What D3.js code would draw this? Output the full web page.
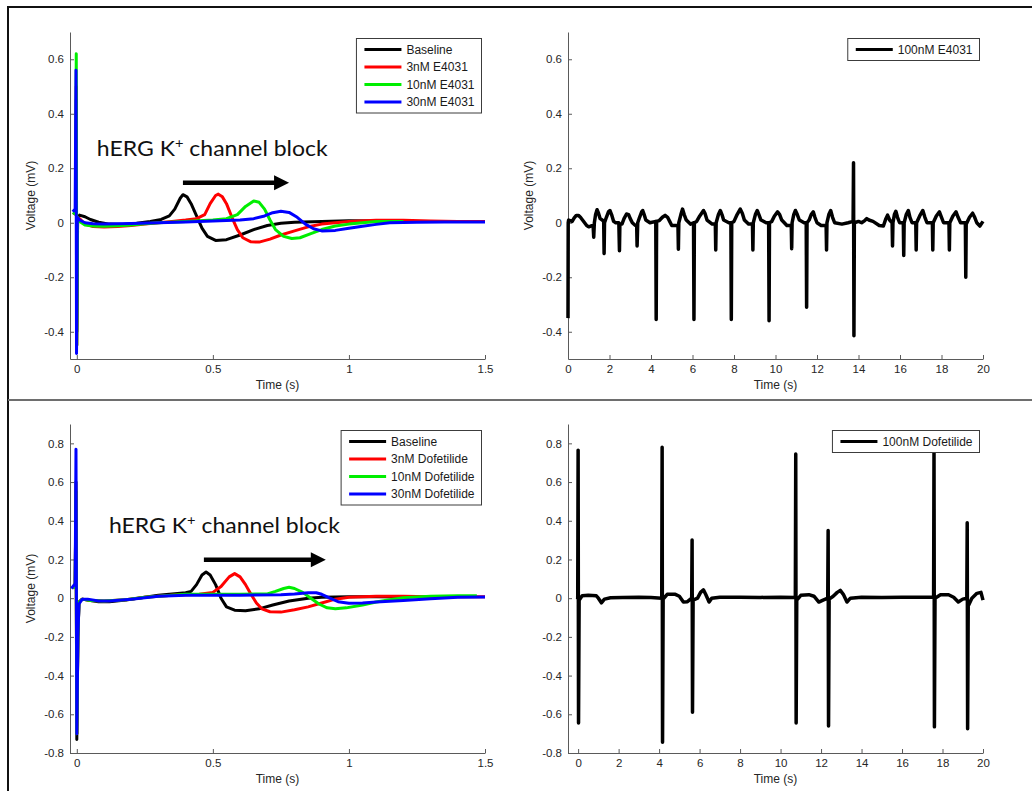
<html>
<head>
  <meta charset="UTF-8">
  <title>hERG K+ channel block - field potentials</title>
  <script src="https://d3js.org/d3.v7.min.js"></script>
  <style>
    body { margin: 0; background: white; }
    svg { display: block; font-family: "Liberation Sans", Arial, sans-serif; }
    .axis text { font-size: 11.5px; fill: #262626; }
    .axis path, .axis line { stroke: #5a5a5a; stroke-width: 1; }
    .label { font-size: 12px; fill: #262626; }
    .legend text { font-size: 12px; fill: #1a1a1a; }
    .note { font-family: Lato, "Open Sans", sans-serif; fill: #111; }
  </style>
</head>
<body>
<svg></svg>
<script>

// ---------- data (time s, voltage mV) ----------

const e4031Names = ["Baseline", "3nM E4031", "10nM E4031", "30nM E4031"];
const dofNames = ["Baseline", "3nM Dofetilide", "10nM Dofetilide", "30nM Dofetilide"];
const seriesColors = ["#000000", "#ff0000", "#00ee00", "#0000ff"];

const shortTimeTicks = [0, 0.5, 1, 1.5];
const longTimeTicks = [0, 2, 4, 6, 8, 10, 12, 14, 16, 18, 20];
const voltTicksTop = [-0.4, -0.2, 0, 0.2, 0.4, 0.6];
const voltTicksBottom = [-0.8, -0.6, -0.4, -0.2, 0, 0.2, 0.4, 0.6, 0.8];

const e4031Baseline = [[-0.012,0.03],[-0.004,0.04],[-0.002,0.45],[0.0,-0.4],[0.003,0.02],[0.01,0.028],[0.03,0.022],[0.05,0.012],[0.08,0.002],[0.12,-0.005],[0.17,-0.006],[0.22,-0.002],[0.27,0.005],[0.31,0.012],[0.34,0.025],[0.36,0.05],[0.38,0.09],[0.39,0.103],[0.405,0.095],[0.42,0.07],[0.44,0.025],[0.46,-0.02],[0.48,-0.05],[0.51,-0.065],[0.55,-0.062],[0.6,-0.045],[0.65,-0.025],[0.7,-0.01],[0.75,-0.002],[0.8,0.002],[0.9,0.005],[1.0,0.007],[1.1,0.006],[1.22,0.005]];
const e4031_3nM = [[-0.012,0.03],[-0.004,0.04],[-0.002,0.5],[0.0,-0.45],[0.003,0.02],[0.01,0.015],[0.03,-0.005],[0.06,-0.014],[0.1,-0.016],[0.15,-0.014],[0.2,-0.01],[0.25,-0.005],[0.3,0.0],[0.35,0.005],[0.4,0.01],[0.44,0.015],[0.47,0.03],[0.49,0.07],[0.51,0.1],[0.52,0.105],[0.535,0.095],[0.55,0.07],[0.57,0.02],[0.59,-0.025],[0.61,-0.055],[0.64,-0.07],[0.67,-0.071],[0.71,-0.06],[0.75,-0.045],[0.8,-0.03],[0.85,-0.015],[0.9,-0.005],[0.95,0.0],[1.0,0.005],[1.1,0.009],[1.2,0.009],[1.3,0.006],[1.4,0.005],[1.5,0.005]];
const e4031_10nM = [[-0.012,0.03],[-0.004,0.05],[-0.002,0.62],[0.0,-0.45],[0.003,0.02],[0.01,0.005],[0.03,-0.008],[0.06,-0.012],[0.1,-0.013],[0.15,-0.011],[0.2,-0.008],[0.25,-0.004],[0.3,0.0],[0.4,0.005],[0.5,0.01],[0.55,0.015],[0.59,0.03],[0.62,0.06],[0.65,0.08],[0.67,0.075],[0.69,0.05],[0.71,0.01],[0.73,-0.025],[0.76,-0.05],[0.79,-0.058],[0.82,-0.055],[0.86,-0.04],[0.9,-0.025],[0.95,-0.012],[1.0,-0.005],[1.05,0.0],[1.1,0.005],[1.2,0.005]];
const e4031_30nM = [[-0.015,0.04],[-0.006,0.05],[-0.003,0.56],[-0.001,-0.48],[0.002,0.02],[0.01,0.01],[0.03,0.0],[0.06,-0.004],[0.1,-0.005],[0.2,-0.003],[0.3,0.0],[0.4,0.003],[0.5,0.006],[0.6,0.01],[0.65,0.015],[0.69,0.025],[0.72,0.037],[0.75,0.042],[0.78,0.038],[0.81,0.02],[0.84,-0.005],[0.87,-0.022],[0.9,-0.03],[0.95,-0.028],[1.0,-0.02],[1.05,-0.013],[1.1,-0.006],[1.15,0.0],[1.25,0.002],[1.35,0.003],[1.5,0.003]];

const e4031_100nM = [[0,-0.35],[0.01,0.0],[0.03,0.01],[0.2,0.005],[0.3,0.018],[0.4,0.027],[0.5,0.027],[0.6,0.02],[0.7,0.01],[0.8,0.0],[0.9,-0.01],[1.0,-0.015],[1.1,-0.012],[1.21,-0.01],[1.24,-0.053],[1.27,0.0],[1.33,0.03],[1.4,0.048],[1.47,0.035],[1.55,0.015],[1.65,0.01],[1.72,0.005],[1.74,-0.113],[1.76,0.0],[1.85,0.02],[1.95,0.04],[2.02,0.045],[2.1,0.03],[2.2,0.005],[2.3,0.0],[2.45,0.0],[2.48,-0.103],[2.5,-0.005],[2.6,-0.005],[2.7,0.015],[2.82,0.032],[2.92,0.03],[3.0,0.015],[3.1,0.0],[3.25,-0.01],[3.31,-0.01],[3.33,-0.085],[3.36,0.0],[3.45,0.02],[3.55,0.04],[3.6,0.045],[3.67,0.03],[3.75,0.01],[3.95,0.0],[4.23,0.005],[4.25,-0.355],[4.27,0.005],[4.4,0.008],[4.55,0.02],[4.68,0.027],[4.8,0.02],[4.9,0.005],[5.0,-0.01],[5.2,-0.01],[5.3,-0.01],[5.32,-0.097],[5.34,0.0],[5.44,0.03],[5.52,0.05],[5.6,0.03],[5.7,0.01],[5.9,-0.005],[6.05,0.0],[6.07,-0.355],[6.09,0.0],[6.2,0.005],[6.35,0.025],[6.53,0.045],[6.6,0.035],[6.7,0.01],[6.95,-0.005],[7.1,-0.005],[7.12,-0.1],[7.14,0.0],[7.25,0.03],[7.34,0.045],[7.42,0.03],[7.5,0.01],[7.75,0.0],[7.85,0.0],[7.87,-0.355],[7.89,0.0],[8.0,0.005],[8.15,0.03],[8.3,0.05],[8.4,0.035],[8.5,0.01],[8.7,-0.005],[8.89,-0.005],[8.91,-0.1],[8.93,0.0],[9.03,0.03],[9.12,0.045],[9.2,0.03],[9.3,0.01],[9.55,0.0],[9.67,0.0],[9.69,-0.36],[9.71,0.0],[9.82,0.005],[9.95,0.025],[10.1,0.04],[10.2,0.03],[10.3,0.01],[10.55,-0.01],[10.76,-0.01],[10.78,-0.095],[10.8,0.0],[10.88,0.03],[10.96,0.045],[11.05,0.03],[11.15,0.01],[11.38,0.0],[11.48,0.0],[11.5,-0.31],[11.52,0.0],[11.62,0.01],[11.72,0.03],[11.82,0.04],[11.9,0.02],[12.0,0.0],[12.2,-0.01],[12.44,-0.01],[12.46,-0.1],[12.48,0.0],[12.57,0.03],[12.66,0.045],[12.75,0.02],[12.85,0.0],[13.2,-0.005],[13.5,0.0],[13.74,0.005],[13.76,0.22],[13.78,-0.415],[13.8,0.0],[14.0,0.005],[14.15,0.0],[14.3,0.008],[14.4,0.015],[14.5,0.01],[14.7,0.005],[15.0,-0.01],[15.2,-0.012],[15.32,0.015],[15.4,0.028],[15.5,0.01],[15.62,0.0],[15.64,-0.085],[15.66,0.0],[15.73,0.03],[15.8,0.042],[15.88,0.02],[15.98,0.0],[16.16,0.0],[16.18,-0.12],[16.2,0.0],[16.3,0.03],[16.4,0.045],[16.48,0.02],[16.58,0.0],[16.76,0.0],[16.78,-0.1],[16.8,0.0],[16.95,0.025],[17.1,0.045],[17.2,0.02],[17.3,0.0],[17.56,0.0],[17.58,-0.1],[17.6,0.0],[17.75,0.025],[17.9,0.04],[18.0,0.02],[18.1,0.0],[18.36,0.0],[18.38,-0.1],[18.4,0.0],[18.55,0.025],[18.7,0.04],[18.8,0.02],[18.92,0.0],[19.15,0.0],[19.17,-0.2],[19.19,-0.005],[19.35,0.02],[19.5,0.035],[19.6,0.02],[19.7,0.0],[19.85,-0.012],[20.0,0.005]];

const dofBaseline = [[-0.015,0.05],[-0.006,0.07],[-0.003,0.6],[0.0,-0.73],[0.004,-0.2],[0.008,-0.02],[0.02,-0.005],[0.05,-0.012],[0.08,-0.018],[0.12,-0.018],[0.18,-0.01],[0.25,0.005],[0.3,0.015],[0.35,0.022],[0.4,0.028],[0.42,0.035],[0.44,0.07],[0.46,0.12],[0.475,0.135],[0.49,0.12],[0.51,0.07],[0.53,0.0],[0.55,-0.045],[0.58,-0.062],[0.62,-0.065],[0.67,-0.055],[0.72,-0.035],[0.78,-0.015],[0.85,0.0],[0.9,0.005],[1.0,0.008],[1.1,0.008],[1.2,0.006]];
const dof3nM = [[-0.015,0.05],[-0.006,0.07],[-0.003,0.55],[0.0,-0.7],[0.004,-0.2],[0.008,-0.02],[0.02,-0.005],[0.05,-0.012],[0.1,-0.015],[0.18,-0.008],[0.25,0.005],[0.35,0.015],[0.45,0.02],[0.5,0.03],[0.53,0.06],[0.56,0.11],[0.58,0.127],[0.6,0.11],[0.62,0.07],[0.64,0.02],[0.66,-0.025],[0.68,-0.055],[0.71,-0.07],[0.75,-0.072],[0.8,-0.06],[0.85,-0.045],[0.9,-0.025],[0.95,-0.005],[1.0,0.005],[1.1,0.01],[1.2,0.01],[1.3,0.008],[1.4,0.007],[1.5,0.007]];
const dof10nM = [[-0.015,0.05],[-0.006,0.07],[-0.003,0.55],[0.0,-0.7],[0.004,-0.2],[0.008,-0.02],[0.02,-0.005],[0.05,-0.012],[0.1,-0.015],[0.18,-0.008],[0.25,0.005],[0.4,0.02],[0.6,0.02],[0.7,0.022],[0.73,0.035],[0.76,0.05],[0.78,0.056],[0.8,0.05],[0.83,0.03],[0.86,0.0],[0.89,-0.03],[0.92,-0.05],[0.95,-0.055],[0.99,-0.05],[1.05,-0.035],[1.1,-0.02],[1.15,-0.008],[1.2,0.002],[1.3,0.01],[1.4,0.012],[1.47,0.012]];
const dof30nM = [[-0.02,0.05],[-0.006,0.075],[-0.003,0.77],[0.0,-0.7],[0.004,-0.2],[0.008,-0.03],[0.02,-0.005],[0.04,-0.005],[0.08,-0.015],[0.12,-0.015],[0.2,-0.005],[0.3,0.01],[0.4,0.015],[0.6,0.015],[0.75,0.018],[0.8,0.022],[0.85,0.028],[0.88,0.028],[0.9,0.02],[0.93,0.0],[0.96,-0.018],[1.0,-0.026],[1.05,-0.025],[1.1,-0.02],[1.2,-0.012],[1.3,-0.003],[1.4,0.005],[1.5,0.006]];

const dof100nM = [[-0.05,0.005],[-0.02,0.0],[0.0,0.765],[0.02,-0.645],[0.05,-0.01],[0.2,0.012],[0.5,0.015],[0.9,0.012],[1.0,0.0],[1.15,-0.024],[1.3,-0.005],[1.6,0.002],[2.2,0.004],[3.0,0.005],[3.6,0.003],[4.13,0.0],[4.15,0.78],[4.17,-0.745],[4.2,-0.005],[4.4,0.02],[4.8,0.02],[5.0,0.01],[5.2,-0.02],[5.4,-0.018],[5.61,0.0],[5.63,0.3],[5.65,-0.59],[5.68,-0.01],[5.9,0.0],[6.05,0.03],[6.19,0.043],[6.3,0.02],[6.47,-0.02],[6.6,0.0],[7.0,0.005],[8.0,0.005],[9.0,0.004],[10.0,0.005],[10.73,0.003],[10.75,0.745],[10.77,-0.645],[10.8,-0.01],[11.0,0.015],[11.4,0.018],[11.65,0.01],[11.89,-0.02],[12.1,-0.01],[12.33,0.0],[12.35,0.35],[12.37,-0.66],[12.4,-0.005],[12.6,0.01],[12.8,0.03],[12.95,0.04],[13.1,0.02],[13.28,-0.02],[13.45,0.0],[14.0,0.005],[15.0,0.004],[16.0,0.005],[17.0,0.005],[17.56,0.005],[17.58,0.78],[17.6,-0.665],[17.63,0.0],[17.9,0.018],[18.3,0.018],[18.55,0.005],[18.78,-0.02],[19.0,-0.005],[19.2,0.0],[19.22,0.39],[19.24,-0.675],[19.27,-0.04],[19.45,0.0],[19.7,0.025],[19.9,0.03],[20.0,-0.01]];

// ---------- setup ----------

const width = 1032;
const height = 791;

let svg = d3.select("svg")
            .attr("width", width)
            .attr("height", height);

svg.append("rect").attr("width", width).attr("height", height).attr("fill", "white");

// slide frame
svg.append("line").attr("x1", 8).attr("y1", 7).attr("x2", width).attr("y2", 7)
   .attr("stroke", "#111").attr("stroke-width", 2);
svg.append("line").attr("x1", 8).attr("y1", 6).attr("x2", 8).attr("y2", height)
   .attr("stroke", "#111").attr("stroke-width", 2);
svg.append("line").attr("x1", 8).attr("y1", 400).attr("x2", width).attr("y2", 400)
   .attr("stroke", "#6e6e6e").attr("stroke-width", 2);

function drawPanel(p) {
    const xScale = d3.scaleLinear().domain(p.xDomain).range([p.left, p.right]);
    const yScale = d3.scaleLinear().domain(p.yDomain).range([p.bottom, p.top]);

    // axes (MATLAB style: ticks inward, no box)
    let bottomAxis = d3.axisBottom(xScale).tickValues(p.xTicks).tickFormat(d => String(d))
                        .tickSizeInner(-4).tickSizeOuter(0).tickPadding(6);
    svg.append("g")
        .attr("class", "x axis")
        .attr("transform", `translate(0, ${p.bottom})`)
        .call(bottomAxis);

    let leftAxis = d3.axisLeft(yScale).tickValues(p.yTicks).tickFormat(d => String(d))
                        .tickSizeInner(-4).tickSizeOuter(0).tickPadding(6);
    svg.append("g")
        .attr("class", "y axis")
        .attr("transform", `translate(${p.left}, 0)`)
        .call(leftAxis);

    svg.append("text")
        .attr("class", "label")
        .attr("x", (p.left + p.right) / 2)
        .attr("y", p.bottom + 30)
        .attr("text-anchor", "middle")
        .text("Time (s)");

    if (p.yLabel) {
        svg.append("text")
            .attr("class", "label")
            .attr("transform", `translate(${p.left - 35}, ${(p.top + p.bottom) / 2}) rotate(-90)`)
            .attr("text-anchor", "middle")
            .text(p.yLabel);
    }

    // traces
    const line = d3.line().x(d => xScale(d[0])).y(d => yScale(d[1]));
    p.series.forEach((s, i) => {
        svg.append("path")
            .attr("d", line(s))
            .attr("fill", "none")
            .attr("stroke", p.colors[i])
            .attr("stroke-width", p.lineWidth)
            .attr("stroke-linejoin", "round");
    });

    // annotation text + arrow
    if (p.note) {
        const n = p.note;
        let t = svg.append("text")
            .attr("class", "note")
            .attr("x", xScale(n.textAt[0]))
            .attr("y", yScale(n.textAt[1]))
            .attr("font-size", 22)
            .attr("textLength", 231)
            .attr("lengthAdjust", "spacingAndGlyphs");
        t.append("tspan").text("hERG K");
        t.append("tspan").attr("font-size", 14).attr("dy", -8).text("+");
        t.append("tspan").attr("dy", 8).text(" channel block");

        const ax0 = xScale(n.arrow[0]), ax1 = xScale(n.arrow[1]), ay = yScale(n.arrow[2]);
        svg.append("line")
            .attr("x1", ax0).attr("x2", ax1 - 12).attr("y1", ay).attr("y2", ay)
            .attr("stroke", "#000").attr("stroke-width", 4.5);
        svg.append("path")
            .attr("d", `M${ax1},${ay} L${ax1 - 15},${ay - 7.5} L${ax1 - 15},${ay + 7.5} Z`)
            .attr("fill", "#000");
    }

    // legend
    const lg = svg.append("g").attr("class", "legend");
    const box = lg.append("rect").attr("fill", "white").attr("stroke", "#3c3c3c").attr("stroke-width", 1);
    const rowH = p.names.length > 1 ? 17.5 : 0;
    let maxW = 0;
    const items = p.names.map((name, i) => {
        const cy = 11 + i * rowH;
        const ln = lg.append("line").attr("y1", cy).attr("y2", cy)
                     .attr("stroke", p.colors[i]).attr("stroke-width", 3);
        const tx = lg.append("text").attr("y", cy).attr("dy", "0.35em").text(name);
        maxW = Math.max(maxW, tx.node().getComputedTextLength());
        return { ln, tx };
    });
    const boxW = 8 + 37 + 5 + maxW + 7;
    const boxH = 22 + (p.names.length - 1) * rowH;
    const bx = p.right - 4 - boxW;
    const by = p.top + 6;
    lg.attr("transform", `translate(${bx + 0.5}, ${by + 0.5})`);
    box.attr("width", boxW).attr("height", boxH);
    items.forEach(it => {
        it.ln.attr("x1", 8).attr("x2", 45);
        it.tx.attr("x", 50);
    });
}

drawPanel({
    left: 70, right: 485, top: 32, bottom: 359,
    xDomain: [-0.025, 1.5], yDomain: [-0.5, 0.7],
    xTicks: shortTimeTicks, yTicks: voltTicksTop,
    series: [e4031Baseline, e4031_3nM, e4031_10nM, e4031_30nM],
    colors: seriesColors, names: e4031Names, lineWidth: 3,
    yLabel: "Voltage (mV)",
    note: { textAt: [0.0735, 0.246], arrow: [0.39, 0.78, 0.147] }
});

drawPanel({
    left: 568, right: 983, top: 32, bottom: 359,
    xDomain: [0, 20], yDomain: [-0.5, 0.7],
    xTicks: longTimeTicks, yTicks: voltTicksTop,
    series: [e4031_100nM],
    colors: ["#000000"], names: ["100nM E4031"], lineWidth: 3.5,
    yLabel: "Voltage (mV)"
});

drawPanel({
    left: 70, right: 485, top: 424, bottom: 753,
    xDomain: [-0.025, 1.5], yDomain: [-0.8, 0.9],
    xTicks: shortTimeTicks, yTicks: voltTicksBottom,
    series: [dofBaseline, dof3nM, dof10nM, dof30nM],
    colors: seriesColors, names: dofNames, lineWidth: 3,
    yLabel: "Voltage (mV)",
    note: { textAt: [0.118, 0.335], arrow: [0.467, 0.915, 0.199] }
});

drawPanel({
    left: 568, right: 983, top: 424, bottom: 753,
    xDomain: [-0.5, 20], yDomain: [-0.8, 0.9],
    xTicks: longTimeTicks, yTicks: voltTicksBottom,
    series: [dof100nM],
    colors: ["#000000"], names: ["100nM Dofetilide"], lineWidth: 3.5
});

</script>
</body>
</html>
